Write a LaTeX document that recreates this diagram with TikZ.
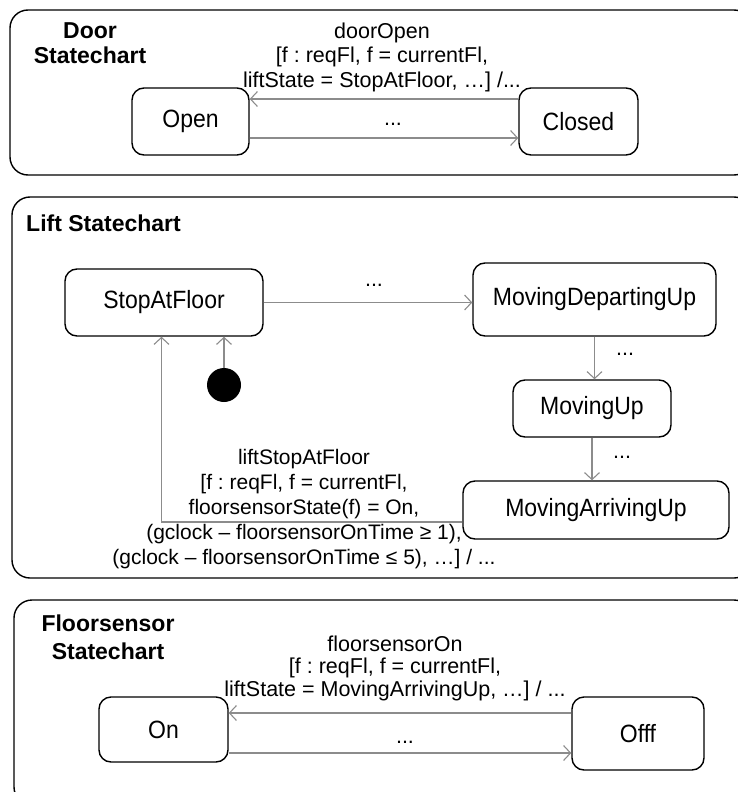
\documentclass[tikz,border=0pt]{standalone}
\usepackage{fontspec}
\setmainfont{Liberation Sans}
\newfontfamily\statefont[FakeStretch=0.92]{Liberation Sans}
\usetikzlibrary{arrows.meta,calc}
\frenchspacing

\tikzset{
  frame/.style={draw=black, line width=1.4bp, rounded corners=18bp},
  state/.style={draw=black, line width=1.4bp, rounded corners=12bp, fill=white,
    inner sep=0pt, font=\statefont\fontsize{25bp}{27bp}\selectfont},
  trans/.style={draw=black!45, line width=1.3bp,
    -{Straight Barb[length=7bp,width=15bp,line width=1.1bp]}},
  guard/.style={align=center, inner sep=0pt},
  title/.style={align=center, inner sep=0pt, font=\fontsize{23bp}{25bp}\selectfont\bfseries},
  dots/.style={inner sep=0pt, font=\fontsize{21.5bp}{24bp}\selectfont},
}

\begin{document}
\begin{tikzpicture}[x=1bp, y=-1bp]
\useasboundingbox (0,0) rectangle (738,792);
\clip (0,0) rectangle (738,792);

% ---- Door statechart ----
\draw[frame] (10,10) rectangle (752,175);
\node[title] (doortitle) at (90,43) {Door\\[0pt]Statechart};
\node[state, minimum width=117bp, minimum height=67bp] (open) at (190.5,121.5) {Open};
\node[state, minimum width=119bp, minimum height=67bp] (closed) at (578.5,121.5) {Closed};
\draw[trans] ([yshift=22.5bp]closed.west) -- ([yshift=22.5bp]closed.west -| open.east);
\draw[trans] ([yshift=-16.5bp]open.east) -- ([yshift=-16.5bp]open.east -| closed.west);
\node[guard, font=\fontsize{21.5bp}{24.5bp}\selectfont] (doorlbl) at (382,57)
  {doorOpen\\{}[f : reqFl, f = currentFl,\\liftState = StopAtFloor, …] /...};
\node[dots] (doordots) at (393,124) {...};

% ---- Lift statechart ----
\draw[frame] (12,197) rectangle (752,578);
\node[title, anchor=west] (lifttitle) at (26,223) {Lift Statechart};
\node[state, minimum width=198bp, minimum height=67bp] (stop) at (164,302.5) {StopAtFloor};
\node[state, minimum width=243bp, minimum height=73bp] (depart) at (594.5,299.5) {MovingDepartingUp};
\node[state, minimum width=158bp, minimum height=57bp] (moving) at (592,408.5) {MovingUp};
\node[state, minimum width=266bp, minimum height=58bp] (arrive) at (596,510) {MovingArrivingUp};
\node[circle, fill=black, minimum size=34bp, inner sep=0pt] (init) at (224,385) {};

\draw[trans] (init) -- (init |- stop.south);
\draw[trans] (stop.east) -- (stop.east -| depart.west);
\draw[trans] (depart.south) -- (depart.south |- moving.north);
\draw[trans] (moving.south) -- (moving.south |- arrive.north);
\draw[trans] ([yshift=-12bp]arrive.west) -| ([xshift=-2.5bp]stop.south);

\node[dots] (dots1) at (374,285) {...};
\node[dots] (dots2) at (625,354) {...};
\node[dots] (dots3) at (622,457) {...};
\node[guard, font=\fontsize{21bp}{25bp}\selectfont] (liftlbl) at (304,509)
  {liftStopAtFloor\\{}[f : reqFl, f = currentFl,\\floorsensorState(f) = On,\\
   (gclock – floorsensorOnTime ≥ 1),\\(gclock – floorsensorOnTime ≤ 5), …] / ...};

% ---- Floorsensor statechart ----
\draw[frame] (14,600) rectangle (752,805);
\node[title] (floortitle) at (108,637) {Floorsensor\\[3pt]Statechart};
\node[state, minimum width=129bp, minimum height=65bp] (on) at (163.5,729.5) {On};
\node[state, minimum width=132bp, minimum height=73bp] (off) at (638,733.5) {Offf};
\draw[trans] ([yshift=20.5bp]off.west) -- ([yshift=20.5bp]off.west -| on.east);
\draw[trans] ([yshift=-23.5bp]on.east) -- ([yshift=-23.5bp]on.east -| off.west);
\node[guard, font=\fontsize{21.5bp}{22.5bp}\selectfont] (floorlbl) at (395,668)
  {floorsensorOn\\{}[f : reqFl, f = currentFl,\\liftState = MovingArrivingUp, …] / ...};
\node[dots] (floordots) at (405,742) {...};
\end{tikzpicture}
\end{document}
